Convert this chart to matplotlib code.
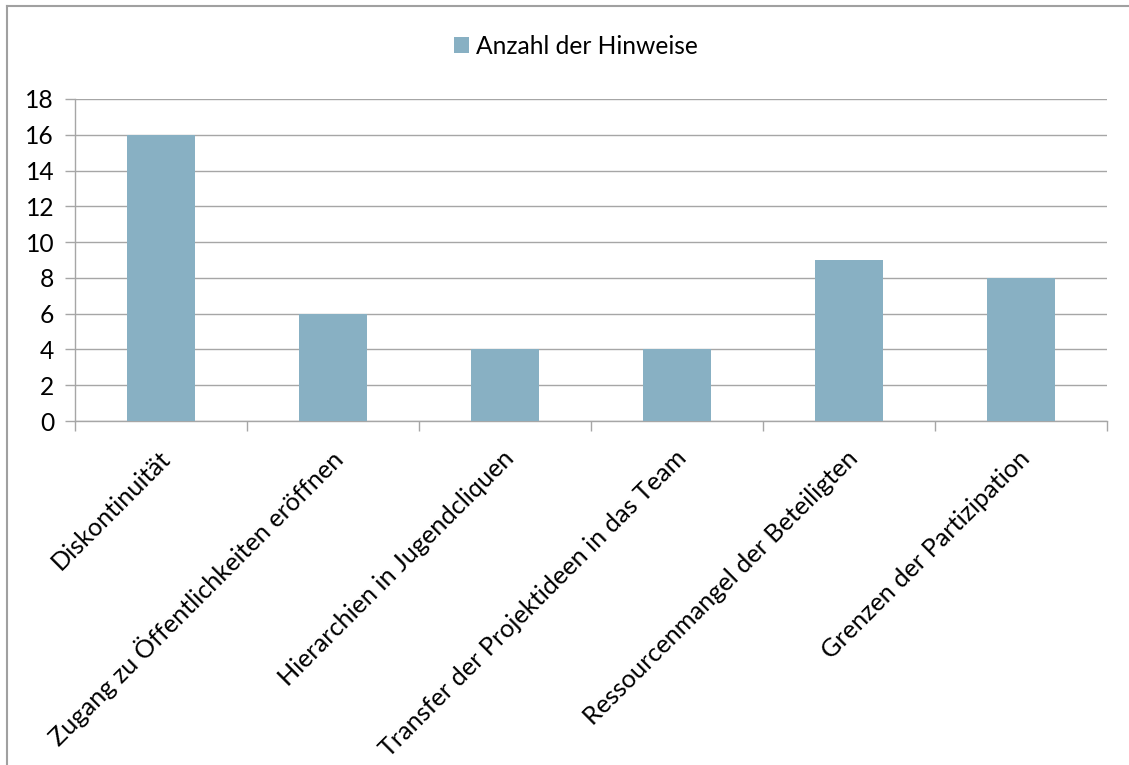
import matplotlib
matplotlib.use("Agg")
import matplotlib.pyplot as plt
from matplotlib.patches import Patch
from matplotlib.lines import Line2D

categories = [
    "Diskontinuität",
    "Zugang zu Öffentlichkeiten eröffnen",
    "Hierarchien in Jugendcliquen",
    "Transfer der Projektideen in das Team",
    "Ressourcenmangel der Beteiligten",
    "Grenzen der Partizipation",
]
values = [16, 6, 4, 4, 9, 8]
series_name = "Anzahl der Hinweise"
y_ticks = [0, 2, 4, 6, 8, 10, 12, 14, 16, 18]

plt.rcParams["font.family"] = ["Lato", "DejaVu Sans"]
FS = 17.7
FS_CAT = 18.2

W, H = 1129, 765
fig = plt.figure(figsize=(W / 100, H / 100), dpi=100)
fig.patch.set_facecolor("white")

# axes box in pixel coordinates
left, right, top, bottom = 75, 1107, 99, 421
ax = fig.add_axes([left / W, 1 - bottom / H, (right - left) / W, (bottom - top) / H])

bar_color = "#88B0C3"
grid_color = "#A6A6A6"

x = list(range(len(categories)))
ax.bar(x, values, width=0.4, color=bar_color, zorder=3)

ax.set_xlim(-0.5, len(categories) - 0.5)
ax.set_ylim(0, 18)
ax.set_yticks(y_ticks)
ax.set_yticklabels([str(v) for v in y_ticks], fontsize=FS)
ax.yaxis.grid(True, color=grid_color, linewidth=1.0, zorder=0)
ax.tick_params(axis="y", length=7, width=1.0, color=grid_color, pad=8)

# category ticks sit at the boundaries between groups
ax.set_xticks([i - 0.5 for i in range(len(categories) + 1)])
ax.set_xticklabels([])
ax.tick_params(axis="x", length=7, width=1.0, color=grid_color)
for i, label in enumerate(categories):
    ax.annotate(label, xy=(i, 0), xycoords=("data", "data"),
                xytext=(4, -24), textcoords="offset points",
                rotation=45, rotation_mode="anchor",
                ha="right", va="center", fontsize=FS_CAT, color="black")

for side in ("top", "right"):
    ax.spines[side].set_visible(False)
for side in ("left", "bottom"):
    ax.spines[side].set_color(grid_color)
    ax.spines[side].set_linewidth(1.0)

handles = [Patch(facecolor=bar_color, edgecolor="none")]
fig.legend(handles, [series_name], loc="center", bbox_to_anchor=(576 / W, 1 - 46 / H),
           frameon=False, fontsize=FS, handlelength=0.6, handleheight=0.6,
           handletextpad=0.3)

# outer chart frame
fig.add_artist(Line2D([7 / W, 7 / W], [0, 1 - 6 / H], transform=fig.transFigure,
                      color="#A0A0A0", linewidth=1.5))
fig.add_artist(Line2D([7 / W, 1], [1 - 6 / H, 1 - 6 / H], transform=fig.transFigure,
                      color="#A0A0A0", linewidth=1.5))

fig.savefig("out.png", dpi=100)
